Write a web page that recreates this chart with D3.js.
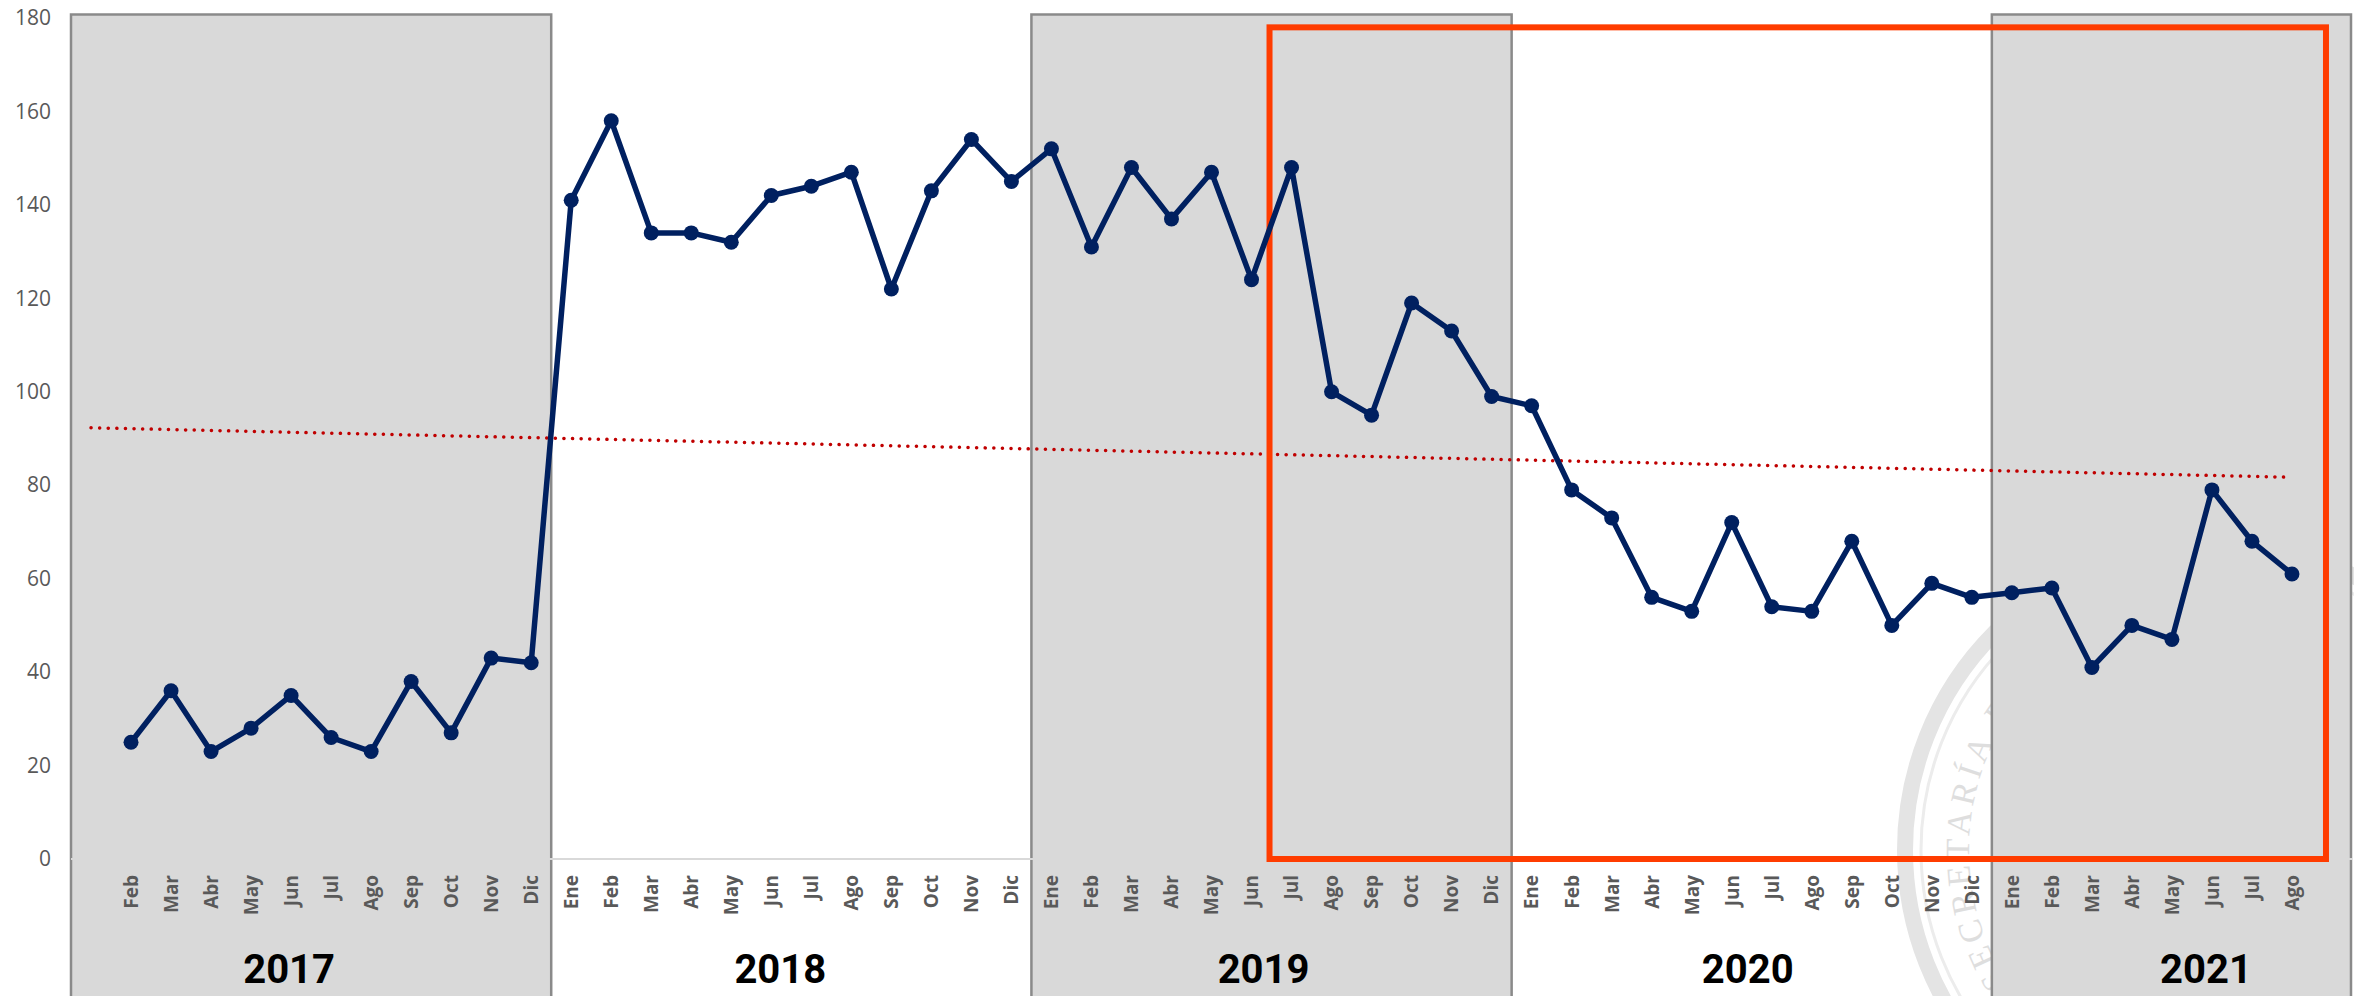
<!DOCTYPE html>
<html>
<head>
<meta charset="utf-8">
<script src="https://cdn.jsdelivr.net/npm/d3@7"></script>
<style>
    body { margin: 0; background: #fff; }
    svg { display: block; }
    .yAxis text { font-family: 'Open Sans', sans-serif; font-size: 21px; fill: #595959; }
    .xAxis text { font-family: 'Open Sans', sans-serif; font-size: 19px; font-weight: 700; fill: #595959; }
    .yearText { font-family: Roboto, sans-serif; font-size: 40px; font-weight: 700; fill: #000; }
</style>
</head>
<body>
<div id="chart"></div>
<script>
// Variables
const width = 2354;
const height = 996;

const margin = { top: 18, left: 71, right: 1, bottom: 137 };

const years = ['2017', '2018', '2019', '2020', '2021'];
const months = ['Ene', 'Feb', 'Mar', 'Abr', 'May', 'Jun', 'Jul', 'Ago', 'Sep', 'Oct', 'Nov', 'Dic'];
const shadedYears = ['2017', '2019', '2021'];
const yTicks = [0, 20, 40, 60, 80, 100, 120, 140, 160, 180];

// monthly values (2017 starts in Feb, 2021 ends in Ago)
const values2017 = [25, 36, 23, 28, 35, 26, 23, 38, 27, 43, 42];
const values2018 = [141, 158, 134, 134, 132, 142, 144, 147, 122, 143, 154, 145];
const values2019 = [152, 131, 148, 137, 147, 124, 148, 100, 95, 119, 113, 99];
const values2020 = [97, 79, 73, 56, 53, 72, 54, 53, 68, 50, 59, 56];
const values2021 = [57, 58, 41, 50, 47, 79, 68, 61];

// linear trend, value at first slot (Ene 2017) and at last point (Ago 2021)
const trendValues = [92.3, 81.7];

const highlightFrom = 'Jul 2019';
const highlightTo = 'Ago 2021';
const highlightTop = 178;

const series = [
    { year: '2017', first: 1, vals: values2017 },
    { year: '2018', first: 0, vals: values2018 },
    { year: '2019', first: 0, vals: values2019 },
    { year: '2020', first: 0, vals: values2020 },
    { year: '2021', first: 0, vals: values2021 }
];

const data = [];
series.forEach(s => s.vals.forEach((v, i) => data.push({ key: months[s.first + i] + ' ' + s.year, value: v })));

// all category slots: Ene 2017 ... Sep 2021 (one empty slot each end)
const categories = [];
years.forEach(y => months.forEach(m => categories.push(m + ' ' + y)));
categories.length = categories.indexOf('Sep 2021') + 1;

const dataKeys = new Set(data.map(d => d.key));

const svg = d3.select('#chart').append('svg')
    .attr('width', width)
    .attr('height', height);

svg.append('rect').attr('width', width).attr('height', height).attr('fill', '#fff');

const xScale = d3.scaleBand()
    .domain(categories)
    .range([margin.left, width - margin.right - 1]);
const bw = xScale.bandwidth();
const xMid = k => xScale(k) + bw / 2;

const yScale = d3.scaleLinear()
    .domain([0, 180])
    .range([height - margin.bottom, margin.top]);

// faint seal watermark (behind everything)
const seal = svg.append('g').attr('id', 'seal');
const sc = { x: 2213, y: 850 };
seal.append('circle')
    .attr('cx', sc.x).attr('cy', sc.y).attr('r', 308)
    .attr('fill', 'none').attr('stroke', '#e4e4e4').attr('stroke-width', 16);
seal.append('circle')
    .attr('cx', sc.x).attr('cy', sc.y).attr('r', 292)
    .attr('fill', 'none').attr('stroke', '#ececec').attr('stroke-width', 3);
const ar = 244, a0 = 140 * Math.PI / 180, a1 = 300 * Math.PI / 180;
seal.append('path')
    .attr('id', 'sealPath')
    .attr('fill', 'none')
    .attr('d', `M${sc.x + ar * Math.cos(a0)},${sc.y + ar * Math.sin(a0)} A${ar},${ar} 0 0 1 ${sc.x + ar * Math.cos(a1)},${sc.y + ar * Math.sin(a1)}`);
seal.append('text')
    .attr('font-family', "'Liberation Serif', serif")
    .attr('font-size', 34)
    .attr('letter-spacing', 5)
    .attr('fill', '#dedede')
    .append('textPath')
        .attr('href', '#sealPath')
        .attr('startOffset', 30)
        .text('SECRETARÍA DE');

// grey year boxes
const boxes = svg.append('g').attr('id', 'yearBoxes');
shadedYears.forEach(y => {
    const x0 = xScale('Ene ' + y);
    const x1 = Math.min(x0 + 12 * bw, width - 3);
    boxes.append('rect')
        .attr('x', x0)
        .attr('y', yScale(180) - 3.5)
        .attr('width', x1 - x0)
        .attr('height', height)
        .attr('fill', '#d9d9d9')
        .attr('stroke', '#8a8a8a')
        .attr('stroke-width', 2.5);
});

// x axis baseline
svg.append('line')
    .attr('x1', xScale.range()[0]).attr('x2', xScale.range()[1])
    .attr('y1', yScale(0)).attr('y2', yScale(0))
    .attr('stroke', '#d9d9d9').attr('stroke-width', 2);

// y axis
svg.append('g')
    .attr('class', 'yAxis')
    .attr('transform', `translate(${margin.left}, 0)`)
    .call(d3.axisLeft(yScale).tickValues(yTicks).tickSize(0).tickPadding(20))
    .call(g => g.select('.domain').remove());

// x axis month labels
svg.append('g')
    .attr('class', 'xAxis')
    .attr('transform', `translate(0, ${yScale(0)})`)
    .call(d3.axisBottom(xScale).tickSize(0).tickFormat(k => dataKeys.has(k) ? k.split(' ')[0] : ''))
    .call(g => g.select('.domain').remove())
    .selectAll('text')
        .attr('transform', 'rotate(-90)')
        .attr('text-anchor', 'end')
        .attr('x', -16)
        .attr('y', 0)
        .attr('dy', '0.36em');

// year labels (roughly centred under each year, nudged like the original)
const yearNudge = { '2017': -22, '2018': -11, '2019': -8, '2020': -4, '2021': -26 };
svg.append('g').attr('id', 'yearLabels')
    .selectAll('text').data(years).enter().append('text')
        .attr('class', 'yearText')
        .attr('text-anchor', 'middle')
        .attr('x', y => xScale('Jul ' + y) + yearNudge[y])
        .attr('y', 983)
        .text(y => y);

// trend line
svg.append('line')
    .attr('x1', xMid(categories[0])).attr('y1', yScale(trendValues[0]))
    .attr('x2', xMid(data[data.length - 1].key)).attr('y2', yScale(trendValues[1]))
    .attr('stroke', '#c00000')
    .attr('stroke-width', 3.5)
    .attr('stroke-linecap', 'round')
    .attr('stroke-dasharray', '0.1 8.5');

// highlight rectangle
const hx0 = xScale(highlightFrom) - 2;
const hx1 = xScale(highlightTo) + bw + 14;
svg.append('rect')
    .attr('x', hx0)
    .attr('y', yScale(highlightTop))
    .attr('width', hx1 - hx0)
    .attr('height', yScale(0) - yScale(highlightTop))
    .attr('fill', 'none')
    .attr('stroke', '#ff3c00')
    .attr('stroke-width', 6);

// data line + markers
const line = d3.line().x(d => xMid(d.key)).y(d => yScale(d.value));
svg.append('path')
    .datum(data)
    .attr('d', line)
    .attr('fill', 'none')
    .attr('stroke', '#002060')
    .attr('stroke-width', 5.5)
    .attr('stroke-linejoin', 'round');

svg.append('g').attr('id', 'markers')
    .selectAll('circle').data(data).enter().append('circle')
        .attr('cx', d => xMid(d.key))
        .attr('cy', d => yScale(d.value))
        .attr('r', 7.5)
        .attr('fill', '#002060');
</script>
</body>
</html>
